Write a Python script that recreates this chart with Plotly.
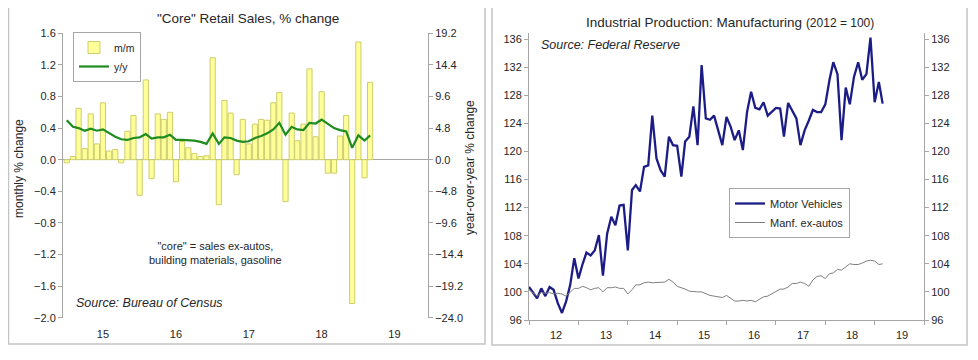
import plotly.graph_objects as go
import pandas as pd

# The page body has an 8px margin, so the figure is drawn 8px in from the
# top-left corner; the figure is sized so it exactly fills the window.
OFF = 8
W, H = 978 - OFF, 360 - OFF

# ---------------- data ----------------
retail_months = pd.date_range("2015-01-01", periods=51, freq="MS")
core_mm = [-0.04, 0.04, 0.65, 0.14, 0.58, 0.20, 0.72, 0.11, 0.13, -0.04,
           0.36, 0.56, -0.45, 1.01, -0.24, 0.58, 0.51, 0.60, -0.28, 0.23,
           0.15, 0.08, 0.04, 0.05, 1.29, -0.57, 0.75, 0.59, -0.19, 0.51,
           0.20, 0.45, 0.51, 0.50, 0.72, 0.85, -0.53, 0.59, 0.24, 0.45,
           1.15, 0.29, 0.86, -0.17, -0.17, 0.30, 0.56, -1.82, 1.49, -0.23,
           0.98]
core_yy = [6.0, 5.0, 4.8, 4.4, 4.7, 4.4, 4.6, 4.0, 3.5, 3.1,
           3.0, 3.3, 3.4, 3.9, 3.2, 3.4, 3.4, 3.8, 3.0, 3.0,
           3.0, 2.9, 2.7, 2.4, 4.0, 2.4, 3.4, 3.3, 2.9, 2.7,
           2.8, 3.3, 3.6, 4.0, 4.6, 5.6, 3.8, 5.0, 4.6, 4.5,
           5.6, 5.5, 6.1, 5.4, 4.8, 4.5, 4.3, 1.8, 3.7, 2.9,
           3.7]
retail_year_labels = ["15", "16", "17", "18", "19"]

ip_months = pd.date_range("2012-01-01", periods=87, freq="MS")
motor_vehicles = [100.7, 99.8, 99.1, 100.5, 99.4, 100.7, 100.3, 98.4, 97.0, 98.6,
                  101.0, 104.8, 101.9, 104.0, 105.6, 105.2, 105.9, 108.1, 102.3, 108.3,
                  110.7, 109.5, 112.3, 112.4, 105.9, 114.5, 115.2, 114.3, 117.8, 118.0,
                  125.1, 119.0, 117.3, 116.4, 122.1, 120.9, 120.8, 116.4, 121.4, 122.1,
                  126.4, 120.9, 132.3, 124.7, 124.5, 125.1, 123.0, 120.9, 124.9, 123.5,
                  121.6, 123.0, 120.2, 125.6, 128.5, 126.2, 126.0, 127.0, 125.1, 125.6,
                  126.2, 126.1, 122.1, 126.9, 125.9, 124.7, 120.9, 123.0, 124.4, 125.9,
                  125.6, 125.6, 126.7, 130.2, 132.7, 131.0, 121.6, 129.1, 126.7, 130.6,
                  132.7, 130.2, 131.0, 136.2, 127.0, 129.9, 126.8]
manf_ex_autos = [100.3, 99.8, 99.4, 99.9, 99.8, 99.9, 99.7, 99.8, 99.7, 99.4,
                 100.0, 100.5, 100.5, 100.8, 100.6, 100.3, 100.5, 100.6, 100.0, 100.6,
                 100.6, 100.7, 100.5, 100.5, 99.7, 100.3, 101.0, 101.0, 101.3, 101.4,
                 101.3, 101.3, 101.3, 101.4, 101.8, 101.4, 100.8, 100.6, 100.4, 100.1,
                 100.0, 100.0, 100.0, 99.7, 99.5, 99.4, 99.3, 99.2, 99.5, 99.1,
                 98.7, 98.7, 98.8, 98.7, 98.8, 98.6, 98.9, 99.3, 99.4, 99.7,
                 100.0, 100.4, 100.4, 100.7, 101.2, 101.2, 101.4, 101.2, 100.8, 101.7,
                 102.2, 102.3, 101.9, 102.6, 102.7, 103.2, 103.1, 103.6, 104.0, 103.9,
                 103.9, 104.1, 104.4, 104.5, 104.4, 103.9, 104.0]
ip_year_labels = ["12", "13", "14", "15", "16", "17", "18", "19"]

FONT = "Arial, Liberation Sans, sans-serif"
AX = "#A6A6A6"
TXT = "#262626"


def px(x):
    return (x - OFF) / W


def py(y):
    return 1 - (y - OFF) / H


fig = go.Figure()
fig.add_trace(go.Bar(
    x=retail_months, y=core_mm, name="m/m", xaxis="x", yaxis="y",
    width=26 * 24 * 3600 * 1000,
    marker=dict(color="#FFFF99", line=dict(color="#CDCD6E", width=1)),
    legend="legend"))
fig.add_trace(go.Scatter(
    x=retail_months, y=core_yy, name="y/y", mode="lines", xaxis="x", yaxis="y2",
    line=dict(color="#1E8C1E", width=2.2), legend="legend"))
fig.add_trace(go.Scatter(
    x=ip_months, y=motor_vehicles, name="Motor Vehicles", mode="lines",
    xaxis="x2", yaxis="y3", line=dict(color="#1C1C86", width=2.3), legend="legend2"))
fig.add_trace(go.Scatter(
    x=ip_months, y=manf_ex_autos, name="Manf. ex-autos", mode="lines",
    xaxis="x2", yaxis="y4", line=dict(color="#7F7F7F", width=1), legend="legend2"))

axis_common = dict(showgrid=False, showline=True, linecolor=AX, linewidth=1,
                   ticks="outside", ticklen=4, tickcolor=AX, automargin=False,
                   tickfont=dict(size=11, color=TXT, family=FONT))

retail_label_pos = [f"20{y}-07-01" for y in retail_year_labels]
ip_label_pos = [f"20{y}-07-20" for y in ip_year_labels]

fig.update_layout(
    width=W, height=H, margin=dict(l=0, r=0, t=0, b=0, pad=0),
    paper_bgcolor="white", plot_bgcolor="white",
    font=dict(family=FONT, color=TXT),
    xaxis=dict(domain=[px(63), px(428)], anchor="y", type="date",
               range=["2014-12-13", "2019-12-16"],
               tickmode="array", tickvals=retail_label_pos, ticktext=retail_year_labels,
               showgrid=False, showline=False, ticks="outside", ticklen=6,
               automargin=False, tickcolor="rgba(0,0,0,0)",
               tickfont=dict(size=11, color=TXT, family=FONT)),
    yaxis=dict(domain=[py(317.7), py(33.3)], anchor="x", range=[-2.0, 1.6],
               tick0=0, dtick=0.4, tickformat=".1f", zeroline=True,
               zerolinecolor=AX, zerolinewidth=1, **axis_common),
    yaxis2=dict(overlaying="y", side="right", anchor="x", range=[-24, 19.2],
                tick0=0, dtick=4.8, tickformat=".1f", zeroline=False, **axis_common),
    xaxis2=dict(domain=[px(529), px(924)], anchor="y3", type="date",
                range=["2012-01-01", "2020-01-01"],
                tickmode="linear", tick0="2012-01-01", dtick="M12",
                showticklabels=False,
                showgrid=False, showline=True, linecolor=AX, linewidth=1,
                ticks="outside", ticklen=4, tickcolor=AX, automargin=False),
    yaxis3=dict(domain=[py(320), py(32.7)], anchor="x2", range=[96, 136.9],
                tick0=96, dtick=4, zeroline=False, **axis_common),
    yaxis4=dict(overlaying="y3", side="right", anchor="x2", range=[96, 136.9],
                tick0=96, dtick=4, zeroline=False, **axis_common),
    legend=dict(x=px(73), y=py(32), xanchor="left", yanchor="top",
                bgcolor="white", bordercolor=AX, borderwidth=1,
                font=dict(size=10.5, color=TXT, family=FONT), itemwidth=30,
                tracegroupgap=0),
    legend2=dict(x=px(729), y=py(188), xanchor="left", yanchor="top",
                 bgcolor="white", bordercolor=AX, borderwidth=1,
                 font=dict(size=11, color=TXT, family=FONT), itemwidth=30,
                 tracegroupgap=0),
    showlegend=True,
)

shapes = [
    dict(type="rect", xref="paper", yref="paper", x0=px(8.5), x1=px(485),
         y0=py(344), y1=py(5.5), line=dict(color="#C4C4C4", width=1.5)),
    dict(type="rect", xref="paper", yref="paper", x0=px(492), x1=px(967),
         y0=py(345), y1=py(6), line=dict(color="#C4C4C4", width=1.5)),
]
fig.update_layout(shapes=shapes)

ann = [
    dict(x=px(248), y=py(18), text='"Core" Retail Sales, % change',
         font=dict(size=13.5, color=TXT)),
    dict(x=px(730), y=py(22),
         text="Industrial Production: Manufacturing <span style='font-size:12px'>(2012 = 100)</span>",
         font=dict(size=13.5, color=TXT)),
    dict(x=px(74), y=py(303), xanchor="left", text="<i>Source: Bureau of Census</i>",
         font=dict(size=12.5, color=TXT)),
    dict(x=px(539), y=py(45), xanchor="left", text="<i>Source: Federal Reserve</i>",
         font=dict(size=12.5, color=TXT)),
    dict(x=px(215), y=py(252.5),
         text='"core" = sales ex-autos,<br>building materials, gasoline',
         font=dict(size=11, color=TXT), align="center"),
    dict(x=px(19), y=py(169), text="monthly % change", textangle=-90,
         font=dict(size=12, color=TXT)),
    dict(x=px(470), y=py(168), text="year-over-year % change", textangle=-90,
         font=dict(size=12, color=TXT)),
]
for a in ann:
    a.setdefault("xanchor", "center")
    a.update(xref="paper", yref="paper", yanchor="middle", showarrow=False)
# year labels of the right chart's date axis, centred in each year
for pos, lab in zip(ip_label_pos, ip_year_labels):
    ann.append(dict(x=pos, xref="x2", y=py(335), yref="paper", text=lab,
                    showarrow=False, xanchor="center", yanchor="middle",
                    font=dict(size=11, color=TXT, family=FONT)))
fig.update_layout(annotations=ann)

fig.write_html("out.html")
